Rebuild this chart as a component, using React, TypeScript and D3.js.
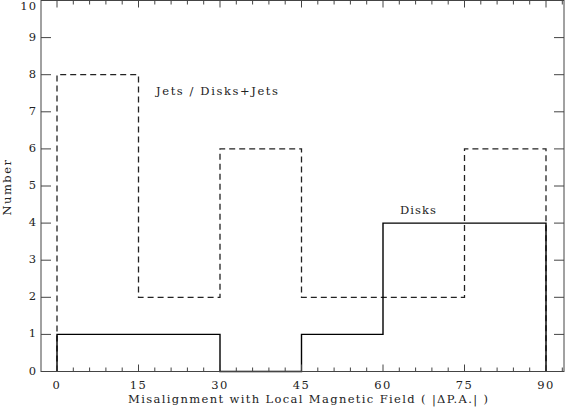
import React from 'react';
import * as d3 from 'd3';

// bin edges in degrees and counts per bin
const binEdges = [0, 15, 30, 45, 60, 75, 90];
const jetCounts = [8, 2, 6, 2, 2, 6];
const diskCounts = [1, 1, 0, 1, 4, 4];
const xMajorTicks = [0, 15, 30, 45, 60, 75, 90];
const yTicks = [0, 1, 2, 3, 4, 5, 6, 7, 8, 9, 10];

const W = 565;
const H = 410;
const frame = { left: 41, right: 564, top: 0.5, bottom: 371.5 };
const font = '"DejaVu Serif", "Liberation Serif", serif';

const x = d3.scaleLinear().domain([0, 90]).range([57, 546]);
const y = d3.scaleLinear().domain([0, 10]).range([frame.bottom, frame.top]);

const stepPath = (counts: number[]) => {
    const pts: [number, number][] = [[binEdges[0], 0]];
    counts.forEach((c, i) => pts.push([binEdges[i], c]));
    pts.push([binEdges[binEdges.length - 1], counts[counts.length - 1]]);
    pts.push([binEdges[binEdges.length - 1], 0]);
    return d3.line<[number, number]>()
        .x(d => x(d[0]))
        .y(d => y(d[1]))
        .curve(d3.curveStepAfter)(pts) || '';
};

// minor ticks every 3 degrees inside the frame
const xMinorTicks = d3.range(-3, 96, 3).filter(v => v % 15 !== 0 && x(v) > frame.left && x(v) < frame.right);

export default function App() {
    const ink = '#222';
    return (
        <svg width={W} height={H} style={{ position: 'absolute', left: 0, top: 0, background: '#fff' }}
            fontFamily={font}>
            {/* histograms */}
            <path d={stepPath(jetCounts)} fill="none" stroke={ink} strokeWidth={1.3} strokeDasharray="6,4" />
            <path d={stepPath(diskCounts)} fill="none" stroke="#000" strokeWidth={1.4} />

            {/* frame */}
            <rect x={frame.left} y={frame.top} width={frame.right - frame.left} height={frame.bottom - frame.top}
                fill="none" stroke="#444" strokeWidth={1} />

            {/* x ticks bottom + top */}
            {xMajorTicks.map(t => (
                <g key={'xM' + t}>
                    <line x1={x(t)} x2={x(t)} y1={frame.bottom} y2={frame.bottom - 7} stroke="#444" />
                    <line x1={x(t)} x2={x(t)} y1={frame.top} y2={frame.top + 7} stroke="#444" />
                    <text x={x(t)} y={389} textAnchor="middle" fontSize={11.5} letterSpacing={1.5} fill={ink}>{t}</text>
                </g>
            ))}
            {xMinorTicks.map(t => (
                <g key={'xm' + t}>
                    <line x1={x(t)} x2={x(t)} y1={frame.bottom} y2={frame.bottom - 4} stroke="#444" />
                    <line x1={x(t)} x2={x(t)} y1={frame.top} y2={frame.top + 4} stroke="#444" />
                </g>
            ))}

            {/* y ticks left + right */}
            {yTicks.map(t => (
                <g key={'y' + t}>
                    <line x1={frame.left} x2={frame.left + 10} y1={y(t)} y2={y(t)} stroke="#444" />
                    <line x1={frame.right} x2={frame.right - 10} y1={y(t)} y2={y(t)} stroke="#444" />
                    <text x={37} y={Math.max(y(t) + 3, 9.5)} textAnchor="end" fontSize={11.5} letterSpacing={1} fill={ink}>{t}</text>
                </g>
            ))}

            {/* axis titles */}
            <text x={128} y={403} textLength={360} lengthAdjust="spacing" fontSize={11.5} fill={ink}>
                Misalignment with Local Magnetic Field ( |ΔP.A.| )
            </text>
            <text transform="translate(11,187) rotate(-90)" textAnchor="middle" fontSize={11.5} letterSpacing={1.5} fill={ink}>Number</text>

            {/* annotations */}
            <text x={156} y={95} textLength={122} lengthAdjust="spacing" fontSize={11.5} fill={ink}>Jets / Disks+Jets</text>
            <text x={400} y={214} textLength={36} lengthAdjust="spacing" fontSize={11.5} fill={ink}>Disks</text>
        </svg>
    );
}
